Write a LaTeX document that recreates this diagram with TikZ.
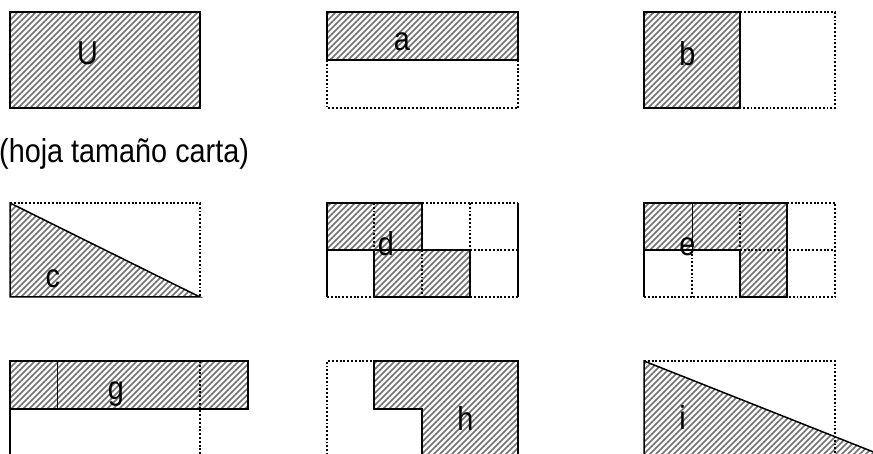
\documentclass[tikz,border=0pt]{standalone}
\usepackage{fontspec}
\setmainfont{Liberation Sans}
\usepackage{graphicx}
\newcommand{\tallt}[1]{\scalebox{1}[1.15]{#1}}
\newcommand{\hatchfill}[1]{%
  \begin{scope}
    \clip #1;
    \foreach \k in {-470,-464,...,880} \draw[hatchln] (\k,470) -- ++(470,-470);
  \end{scope}}
\tikzset{
  hatchln/.style={line width=1.7pt, black!55},
  solidln/.style={line width=1.5pt, black, line join=miter},
  thinln/.style={line width=0.7pt, black},
  dotln/.style={line width=1.9pt, black, dash pattern=on 1.9pt off 1.9pt},
  lbl/.style={anchor=base, inner sep=0pt, font=\fontsize{28.8}{30}\selectfont},
}
\begin{document}
\begin{tikzpicture}[x=1pt, y=-1pt]
\clip (0,0) rectangle (873,454);
\fill[white] (0,0) rectangle (873,454);

% ---------- hatching ----------
\hatchfill{(10,12) rectangle (200,108)}
\hatchfill{(327,12) rectangle (518,60)}
\hatchfill{(644,12) rectangle (740,108)}
\hatchfill{(10,203) -- (200,297) -- (10,297) -- cycle}
\hatchfill{(327,203) rectangle (422,250) (374,250) rectangle (470,297)}
\hatchfill{(644,203) rectangle (787,250) (740,250) rectangle (787,297)}
\hatchfill{(10,361) rectangle (248,409)}
\hatchfill{(374,361) -- (518,361) -- (518,470) -- (422,470) -- (422,409) -- (374,409) -- cycle}
\hatchfill{(644,361) -- (883.6,456) -- (883.6,470) -- (644,470) -- cycle}

% ---------- U ----------
\draw[solidln] (10,12) rectangle (200,108);

% ---------- a ----------
\draw[dotln] (327,60) -- (327,108) -- (518,108) -- (518,60);
\draw[solidln] (327,12) rectangle (518,60);

% ---------- b ----------
\draw[dotln] (740,12) -- (835,12) -- (835,108) -- (740,108);
\draw[solidln] (644,12) rectangle (740,108);

% ---------- c ----------
\draw[dotln] (10,203) -- (200,203) -- (200,297);
\draw[solidln] (10,203) -- (200,297) -- (10,297) -- cycle;

% ---------- d ----------
\draw[dotln] (374,203) -- (374,250);
\draw[dotln] (422,250) -- (422,297);
\draw[dotln] (422,203) -- (518,203);
\draw[dotln] (470,203) -- (470,250);
\draw[dotln] (470,250) -- (518,250);
\draw[dotln] (327,297) -- (374,297);
\draw[dotln] (470,297) -- (518,297);
\draw[solidln] (327,297) -- (327,203) -- (422,203) -- (422,250);
\draw[solidln] (327,250) -- (470,250) -- (470,297) -- (374,297) -- (374,250);
\draw[solidln] (518,203) -- (518,297);

% ---------- e ----------
\draw[dotln] (787,203) -- (835,203) -- (835,297) -- (787,297);
\draw[dotln] (740,203) -- (740,250);
\draw[dotln] (692,250) -- (692,297);
\draw[dotln] (740,250) -- (835,250);
\draw[dotln] (644,297) -- (740,297);
\draw[thinln] (692,203) -- (692,250);
\draw[solidln] (644,297) -- (644,203) -- (787,203) -- (787,297) -- (740,297) -- (740,250) -- (644,250);

% ---------- g ----------
\draw[thinln] (57,361) -- (57,409);
\draw[dotln] (200,361) -- (200,470);
\draw[solidln] (10,361) rectangle (248,409);
\draw[solidln] (10,409) -- (10,470);

% ---------- h ----------
\draw[dotln] (327,470) -- (327,361) -- (374,361);
\draw[solidln] (422,470) -- (422,409) -- (374,409) -- (374,361) -- (518,361) -- (518,470);

% ---------- i ----------
\draw[dotln] (644,361) -- (835,361) -- (835,470);
\draw[solidln] (644,470) -- (644,361) -- (883.6,456);

% ---------- labels ----------
\node[lbl] (lU) at (87.5,65) {\tallt{U}};
\node[lbl] (la) at (402,50.7) {\tallt{a}};
\node[lbl] (lb) at (687.5,65.7) {\tallt{b}};
\node[lbl] (lc) at (52.7,287.3) {\tallt{c}};
\node[lbl] (ld) at (386,256) {\tallt{d}};
\node[lbl] (le) at (687.5,256) {\tallt{e}};
\node[lbl] (lg) at (115.8,399.3) {\tallt{g}};
\node[lbl] (lh) at (465.5,430.7) {\tallt{h}};
\node[lbl] (li) at (682.5,429.3) {\tallt{i}};
\node[lbl, anchor=base west] (note) at (-1,162.7) {\tallt{(hoja tamaño carta)}};
\end{tikzpicture}
\end{document}
